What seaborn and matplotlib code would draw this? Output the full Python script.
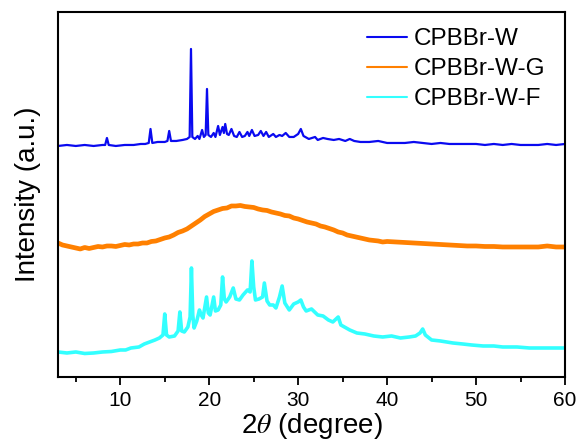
import matplotlib
matplotlib.use("Agg")
import matplotlib.pyplot as plt
import numpy as np
import pandas as pd
import seaborn as sns

# 2-theta positions / intensities (a.u., stacked offsets as in the figure)
w_theta = [3.0, 4.0, 5.0, 6.0, 7.0, 8.0, 8.3, 8.5, 8.7, 9.5, 10.5, 11.5, 12.3, 12.8, 13.2, 13.4, 13.6,
           14.2, 15.0, 15.3, 15.5, 15.7, 16.3, 17.0, 17.5, 17.8, 17.95, 18.1, 18.4, 18.7, 18.9, 19.2,
           19.4, 19.6, 19.75, 19.9, 20.2, 20.5, 20.7, 21.0, 21.2, 21.5, 21.65, 21.8, 22.0, 22.2, 22.5,
           22.8, 23.1, 23.4, 23.7, 24.0, 24.3, 24.5, 24.8, 25.1, 25.5, 25.8, 26.1, 26.4, 26.7, 27.2,
           27.5, 27.9, 28.2, 28.6, 29.0, 29.5, 30.0, 30.3, 30.6, 31.2, 31.9, 32.2, 32.8, 33.3, 34.0,
           34.6, 35.3, 35.8, 36.3, 37.0, 38.0, 39.0, 40.0, 41.0, 42.0, 43.0, 44.0, 45.0, 46.0, 47.0,
           48.0, 49.0, 50.0, 51.0, 52.0, 53.0, 54.0, 55.0, 56.0, 57.0, 58.0, 59.0, 60.0]
w_int = [231, 232, 231, 232, 231, 232, 232, 239, 232, 231, 232, 232, 233, 233, 234, 248, 234,
         235, 235, 236, 246, 236, 236, 237, 238, 240, 328, 240, 238, 241, 238, 247,
         240, 242, 288, 242, 240, 244, 240, 251, 242, 250, 244, 253, 243, 242, 248,
         241, 240, 245, 240, 241, 245, 241, 247, 241, 242, 246, 241, 245, 240, 243,
         240, 242, 241, 244, 240, 240, 243, 248, 241, 238, 240, 237, 239, 238, 237,
         238, 236, 238, 236, 235, 235, 236, 234, 234, 234, 235, 234, 233, 234, 233,
         233, 233, 233, 232, 233, 232, 233, 232, 232, 232, 233, 232, 233]

g_theta = [3.0, 3.5, 4.0, 4.5, 5.0, 5.5, 6.0, 6.5, 7.0, 7.5, 8.0, 8.5, 9.0, 9.5, 10.0, 10.5, 11.0,
           11.5, 12.0, 12.5, 13.0, 13.5, 14.0, 14.5, 15.0, 15.5, 16.0, 16.5, 17.0, 17.5, 18.0, 18.5,
           19.0, 19.5, 20.0, 20.5, 21.0, 21.5, 22.0, 22.5, 23.0, 23.5, 24.0, 24.5, 25.0, 25.5, 26.0,
           26.5, 27.0, 27.5, 28.0, 28.5, 29.0, 29.5, 30.0, 30.5, 31.0, 31.5, 32.0, 32.5, 33.0, 33.5,
           34.0, 34.5, 35.0, 35.5, 36.0, 36.5, 37.0, 37.5, 38.0, 38.5, 39.0, 39.5, 40.0, 41.0, 42.0,
           43.0, 44.0, 45.0, 46.0, 47.0, 48.0, 49.0, 50.0, 51.0, 52.0, 53.0, 54.0, 55.0, 56.0, 57.0,
           58.0, 59.0, 60.0]
g_int = [134, 132, 131, 130, 129, 128, 129.5, 128.5, 129.5, 130.5, 130, 131, 131, 130.5, 131.5, 132.5, 132,
         133, 133, 134, 134, 135.5, 136, 137.5, 139, 140, 142, 144.5, 146, 148, 151, 154,
         157, 160.5, 163, 165.5, 167, 168.5, 169, 171, 171, 171.5, 170.5, 170, 169.5, 168, 167,
         166.5, 165, 164, 163, 161.5, 161, 159, 158, 156.5, 155, 154, 153, 151, 150, 148.5,
         147, 145, 144, 142, 141, 140, 139, 138, 137, 136.5, 136, 135, 135.5, 135, 134.5,
         134, 133.5, 133, 132.5, 132, 131.5, 131, 131, 130.5, 130.5, 130, 130, 130, 130, 130,
         131, 130, 130]

f_theta = [3.0, 4.0, 5.0, 6.0, 7.0, 8.0, 9.0, 10.0, 10.6, 11.2, 12.1, 12.7, 13.3, 13.9, 14.4, 14.8,
           15.0, 15.2, 15.5, 16.1, 16.5, 16.7, 16.9, 17.2, 17.6, 17.85, 18.0, 18.15, 18.3, 18.6, 18.9,
           19.1, 19.3, 19.7, 19.9, 20.1, 20.5, 20.7, 21.0, 21.3, 21.5, 21.7, 21.9, 22.3, 22.7, 23.0,
           23.4, 23.8, 24.3, 24.6, 24.8, 25.0, 25.2, 25.6, 26.0, 26.2, 26.5, 26.8, 27.2, 27.5, 27.9,
           28.2, 28.5, 29.0, 29.5, 30.0, 30.3, 30.6, 30.9, 31.5, 32.2, 32.8, 33.4, 33.9, 34.5, 34.8,
           35.2, 35.8, 36.6, 37.5, 38.5, 39.5, 40.5, 41.5, 42.5, 43.2, 43.7, 44.0, 44.3, 45.0, 46.0,
           47.4, 48.5, 49.5, 50.8, 52.0, 53.0, 54.6, 56.0, 57.5, 59.0, 60.0]
f_int = [25, 24, 25, 23.5, 24, 25, 25.5, 27, 27, 29, 30, 33, 35, 37, 39, 42,
         63, 42, 40, 41, 46, 65, 46, 45, 50, 60, 109, 62, 49, 56, 67,
         62, 59, 80, 64, 62, 80, 66, 67, 72, 100, 78, 75, 80, 89, 78,
         77, 82, 87, 85, 116, 90, 77, 78, 80, 94, 76, 72, 72, 69, 80,
         91, 74, 67, 73, 75, 77, 70, 66, 68, 62, 61, 57, 55, 60, 52,
         50, 47, 44, 43, 41, 40, 41, 39, 40, 41, 44, 48, 42, 37, 36,
         34, 33, 32, 31, 31, 30, 30, 29, 29, 29, 29]

labels = ["CPBBr-W", "CPBBr-W-G", "CPBBr-W-F"]
colors = ["#0a0af0", "#ff8000", "#33ffff"]
widths = [1.6, 3.4, 2.6]

sns.set_style("ticks")
plt.rcParams["font.family"] = ["Liberation Sans", "DejaVu Sans"]
plt.rcParams["mathtext.fontset"] = "stix"
plt.rcParams["text.color"] = "black"
plt.rcParams["axes.labelcolor"] = "black"

fig = plt.figure(figsize=(5.79, 4.43), dpi=100)
ax = fig.add_axes([0.1002, 0.149, 0.8756, 0.824])

series = [(w_theta, w_int), (g_theta, g_int), (f_theta, f_int)]
for (x, y), lab, c, lw in zip(series, labels, colors, widths):
    df = pd.DataFrame({"theta": x, "intensity": y})
    sns.lineplot(data=df, x="theta", y="intensity", color=c, lw=lw, label=lab, ax=ax)

ax.set_xlim(3, 60)
ax.set_ylim(0, 365)
ax.set_xticks([10, 20, 30, 40, 50, 60])
ax.set_xticks(np.arange(5, 60, 10), minor=True)
ax.set_yticks([])
ax.tick_params(axis="x", which="major", direction="out", length=6, width=1.3, labelsize=15,
               colors="black", pad=4)
ax.tick_params(axis="x", which="minor", direction="out", length=3.5, width=1.3, colors="black")
for s in ax.spines.values():
    s.set_visible(True)
    s.set_linewidth(1.5)
    s.set_color("black")

ax.set_xlabel(r"2$\theta$ (degree)", fontsize=20, labelpad=1, color="black")
ax.set_ylabel("Intensity (a.u.)", fontsize=20, labelpad=12, color="black")

leg = ax.legend(loc="upper left", frameon=False, fontsize=17.5, handlelength=1.65,
                handletextpad=0.3, labelspacing=0.33, borderpad=0, borderaxespad=0,
                bbox_to_anchor=(0.609, 0.955))
for h in leg.get_lines():
    h.set_linewidth(1.5)
for t in leg.get_texts():
    t.set_color("black")

fig.savefig("out.png", dpi=100)
